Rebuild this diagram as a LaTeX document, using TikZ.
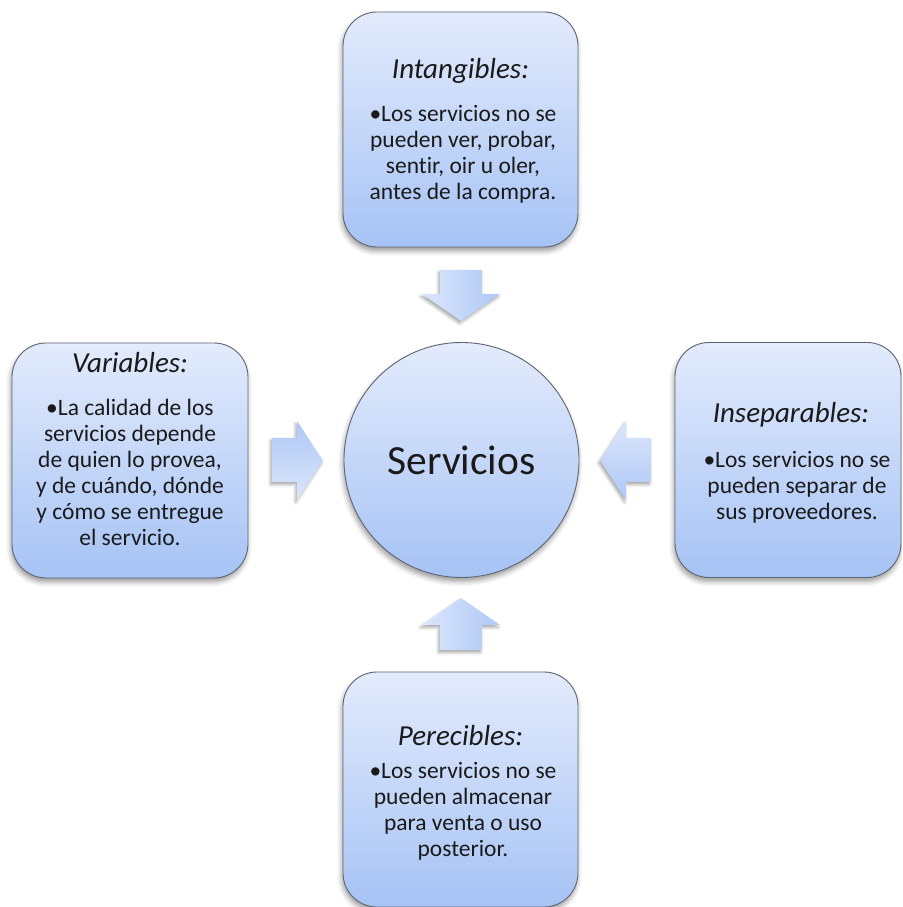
\documentclass[tikz,border=0pt]{standalone}
\usepackage{fontspec}
\setmainfont{Carlito}[Ligatures={NoCommon}]
\usetikzlibrary{shadows.blur}

\definecolor{boxlight}{HTML}{E3EBFC}
\definecolor{boxdark}{HTML}{A6C3F5}
\definecolor{arrowlight}{HTML}{DCE6FB}
\definecolor{arrowdark}{HTML}{AEC8F6}
\definecolor{edge}{HTML}{5F6670}
\definecolor{ink}{HTML}{1A1A1A}

\tikzset{
  softshadow/.style={blur shadow={shadow xshift=-1pt, shadow yshift=-4pt,
      shadow blur radius=5pt, shadow opacity=40}},
  card/.style={draw=edge, line width=0.9pt, rounded corners=34pt,
      top color=boxlight, bottom color=boxdark, inner sep=0pt,
      minimum height=235pt, softshadow},
  hub/.style={circle, draw=edge, line width=0.9pt, top color=boxlight,
      bottom color=boxdark, minimum size=235pt, inner sep=0pt, softshadow,
      text=ink, font=\fontsize{41.5}{48}\selectfont},
  heading/.style={text=ink, inner sep=0pt, font=\fontsize{29}{34}\selectfont\itshape},
  bodytext/.style={text=ink, inner sep=0pt, align=center,
      font=\fontsize{23.5}{26}\selectfont},
  blockarrow/.style={draw=none, blur shadow={shadow xshift=-1.5pt,
      shadow yshift=-2.5pt, shadow blur radius=3pt, shadow opacity=35}}
}

\begin{document}
\begin{tikzpicture}[x=1pt, y=1pt]
  \useasboundingbox (0,0) rectangle (902,907);
  \clip (0,0) rectangle (902,907);

  % central circle
  \node[hub] (center) at (461.5,447) {Servicios};

  % the four characteristic cards
  \node[card, minimum width=235pt] (top)    at (460.5,777.5) {};
  \node[card, minimum width=236pt] (left)   at (130,446.5) {};
  \node[card, minimum width=226pt] (right)  at (788,447) {};
  \node[card, minimum width=235pt] (bottom) at (460.5,117.5) {};

  % card headings
  \node[heading] (topH)    at (460.5,836) {Intangibles:};
  \node[heading] (leftH)   at (130,544)   {Variables:};
  \node[heading] (rightH)  at (791,492)   {Inseparables:};
  \node[heading] (bottomH) at (460.5,171) {Perecibles:};

  % card bullet texts
  \node[bodytext] (topB) at (463,752.5)
    {•Los servicios no se\\pueden ver, probar,\\sentir, oir u oler,\\antes de la compra.};
  \node[bodytext] (leftB) at (130,434.5)
    {•La calidad de los\\servicios depende\\de quien lo provea,\\y de cuándo, dónde\\y cómo se entregue\\el servicio.};
  \node[bodytext] (rightB) at (797,420)
    {•Los servicios no se\\pueden separar de\\sus proveedores.};
  \node[bodytext] (bottomB) at (463,95.5)
    {•Los servicios no se\\pueden almacenar\\para venta o uso\\posterior.};

  % block arrows pointing at the circle
  \path[blockarrow, left color=arrowlight, right color=arrowdark]
    (440,637) -- (482,637) -- (482,613) -- (500,613) -- (461,586)
    -- (422,613) -- (440,613) -- cycle;
  \path[blockarrow, top color=arrowdark, bottom color=arrowlight]
    (272,469) -- (297,469) -- (297,486) -- (323,446.5) -- (297,407)
    -- (297,425) -- (272,425) -- cycle;
  \path[blockarrow, top color=arrowlight, bottom color=arrowdark]
    (651,469) -- (626,469) -- (626,486) -- (600,446.5) -- (626,407)
    -- (626,425) -- (651,425) -- cycle;
  \path[blockarrow, left color=arrowlight, right color=arrowdark]
    (440,257) -- (482,257) -- (482,282) -- (500,282) -- (461,309)
    -- (422,282) -- (440,282) -- cycle;
\end{tikzpicture}
\end{document}
